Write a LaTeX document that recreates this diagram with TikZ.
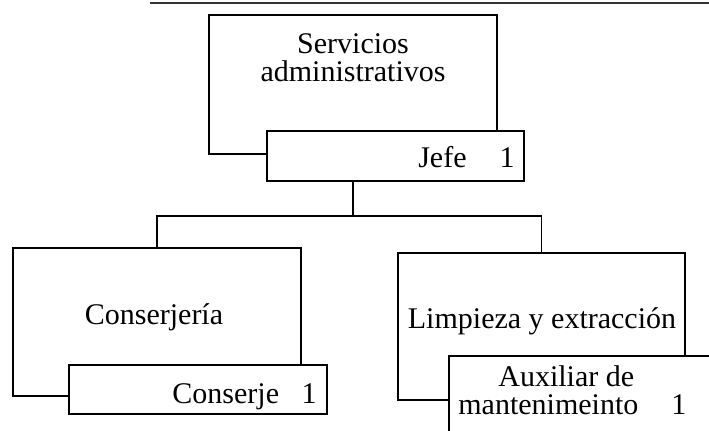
\documentclass[tikz,border=0pt]{standalone}
\usepackage{fontspec}
\setmainfont{Liberation Serif}

\tikzstyle{unit} = [rectangle, draw=black, fill=white, line width=0.6pt, inner sep=0pt]
\tikzstyle{post} = [rectangle, draw=black, fill=white, line width=0.6pt, inner sep=0pt]
\tikzstyle{label} = [inner sep=0pt, font=\fontsize{15}{14}\selectfont]
\tikzstyle{link} = [line width=0.6pt]

\begin{document}
\begin{tikzpicture}[x=0.5pt, y=-0.5pt]
		\useasboundingbox (0,0) rectangle (709,430);
		\clip (0,0) rectangle (709,430);
		% Page edge
		\draw [line width=1pt, black!80] (150,3) -- (709,3);
		% Boxes
		\node (serv) [unit, minimum width=144pt, minimum height=69.5pt] at (353,84.5) {};
		\node (jefe) [post, minimum width=128.5pt, minimum height=25pt] at (395.5,156) {};
		\node (conserj) [unit, minimum width=144pt, minimum height=74pt] at (157,322) {};
		\node (conserje) [post, minimum width=129pt, minimum height=24.5pt] at (198,389.5) {};
		\node (limp) [unit, minimum width=143.5pt, minimum height=73.5pt] at (541.5,326.5) {};
		\node (aux) [post, minimum width=135.5pt, minimum height=42pt] at (584.5,398) {};
		% Texts
		\node (servtxt) [label, align=center] at (353,58) {Servicios\\administrativos};
		\node (jefetxt) [label, anchor=base east] at (515,167) {Jefe\hspace{1.1em}1};
		\node (conserjtxt) [label, anchor=base] at (154,324) {Conserjería};
		\node (conserjetxt) [label, anchor=base east] at (317,403) {Conserje\hspace{0.75em}1};
		\node (limptxt) [label, anchor=base] at (542,328) {Limpieza y extracción};
		\node (auxtxt) [label, align=left, anchor=west] at (458,390) {\hspace*{20pt}Auxiliar de\\mantenimeinto\hspace{1.1em}1};
		% Connectors
		\coordinate (hub) at (353,216);
		\draw [link] (serv.south |- jefe.south) -- (hub);
		\draw [link] (conserj.north) |- (hub) -| (limp.north);
\end{tikzpicture}
\end{document}
